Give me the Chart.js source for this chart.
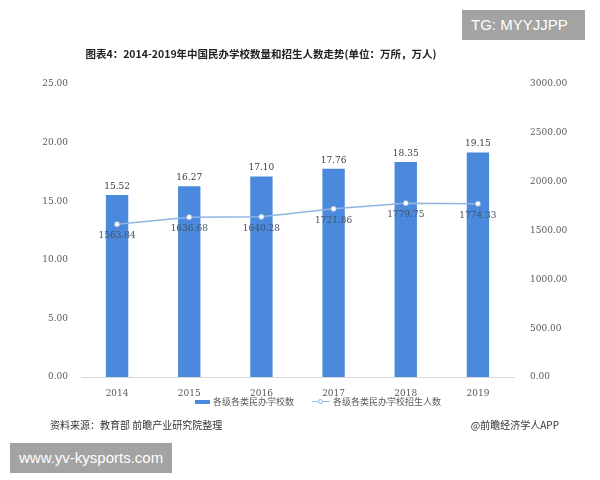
<!DOCTYPE html>
<html>
<head>
<meta charset="utf-8">
<script src="https://cdn.jsdelivr.net/npm/chart.js@4"></script>
<style>
    body { margin: 0; background: #fff; }
    #wrap { position: relative; width: 600px; height: 480px; overflow: hidden; font-family: "Noto Sans CJK SC", sans-serif; }
    #chart { position: absolute; left: 0; top: 0; }
    .txt { position: absolute; white-space: nowrap; }
    #title { left: 0; width: 522px; top: 46px; text-align: center; font-size: 10.5px; font-weight: bold; color: #222; }
    #legend { top: 394px; left: 195px; font-size: 9px; color: #595959; }
    #legend span { display: inline-block; vertical-align: middle; }
    .sw-bar { width: 15px; height: 4px; background: #4a89dc; margin-right: 3px; }
    .sw-line { width: 18px; height: 8px; position: relative; margin-right: 3px; }
    .sw-line:before { content: ''; position: absolute; left: 0; right: 0; top: 3.5px; height: 1px; background: #9dbbe6; }
    .sw-line:after { content: ''; position: absolute; left: 6px; top: 1.5px; width: 3px; height: 3px; border: 1px solid #8fb0e0; border-radius: 50%; background: #fff; }
    #source { left: 50px; top: 417px; font-size: 10px; color: #333; }
    #credit { right: 41px; top: 417px; font-size: 10px; color: #333; }
    .box { position: absolute; background: #a3a3a3; color: #fff; font-family: "Liberation Sans", sans-serif; font-size: 15px; line-height: 30px; padding: 0 9px; }
</style>
</head>
<body>
<div id="wrap">
    <canvas id="chart" width="600" height="480"></canvas>
    <div class="txt" id="title">图表4：2014-2019年中国民办学校数量和招生人数走势(单位：万所，万人)</div>
    <div class="txt" id="legend">
        <span class="sw-bar"></span><span>各级各类民办学校数</span>
        <span style="width:14px"></span>
        <span class="sw-line"></span><span>各级各类民办学校招生人数</span>
    </div>
    <div class="txt" id="source">资料来源：教育部 前瞻产业研究院整理</div>
    <div class="txt" id="credit">@前瞻经济学人APP</div>
    <div class="box" style="left:462px; top:10px; width:105px;">TG: MYYJJPP</div>
    <div class="box" style="left:10px; top:443px;">www.yv-kysports.com</div>
</div>
<script>
// chart data
const years = ['2014', '2015', '2016', '2017', '2018', '2019'];
const schools = [15.52, 16.27, 17.10, 17.76, 18.35, 19.15];          // 万所
const enrolment = [1563.84, 1636.68, 1640.28, 1721.86, 1779.75, 1774.33]; // 万人
const leftTicks = [0, 5, 10, 15, 20, 25];
const rightTicks = [0, 500, 1000, 1500, 2000, 2500, 3000];

const tickFont = { family: '"DejaVu Serif", serif', size: 9 };

// draws value labels above bars and below line points
const valueLabels = {
    id: 'valueLabels',
    afterDatasetsDraw(chart) {
        const ctx = chart.ctx;
        ctx.save();
        ctx.font = '9px "DejaVu Serif", serif';
        ctx.textAlign = 'center';
        chart.data.datasets.forEach(function(ds, i) {
            const meta = chart.getDatasetMeta(i);
            meta.data.forEach(function(el, j) {
                const v = ds.data[j].toFixed(2);
                if (ds.type === 'bar') {
                    ctx.fillStyle = '#404040';
                    ctx.textBaseline = 'bottom';
                    ctx.fillText(v, el.x, el.y - 4);
                } else {
                    ctx.fillStyle = '#44546a';
                    ctx.textBaseline = 'top';
                    ctx.fillText(v, el.x, el.y + 7);
                }
            });
        });
        ctx.restore();
    }
};

new Chart(document.getElementById('chart'), {
    data: {
        labels: years,
        datasets: [{
            type: 'line',
            label: '各级各类民办学校招生人数',
            data: enrolment,
            yAxisID: 'y1',
            borderColor: '#92b4e3',
            borderWidth: 1.5,
            pointRadius: 2.8,
            pointBackgroundColor: '#fff',
            pointBorderColor: '#7fa5dc',
            pointBorderWidth: 1,
            tension: 0
        }, {
            type: 'bar',
            label: '各级各类民办学校数',
            data: schools,
            yAxisID: 'y',
            backgroundColor: '#4a89dc',
            categoryPercentage: 0.62,
            barPercentage: 0.5
        }]
    },
    options: {
        responsive: false,
        animation: false,
        layout: { padding: { top: 84, bottom: 0, left: 0, right: 0 } },
        plugins: {
            legend: { display: false },
            tooltip: { enabled: false }
        },
        scales: {
            x: {
                grid: { display: false },
                border: { color: '#d9d9d9' },
                ticks: { color: '#595959', font: tickFont, padding: 3 },
                afterFit: function(scale) { scale.height = 103; }
            },
            y: {
                position: 'left',
                min: 0,
                max: 25,
                grid: { display: false },
                border: { display: false },
                afterBuildTicks: function(scale) {
                    scale.ticks = leftTicks.map(function(v) { return { value: v }; });
                },
                ticks: {
                    color: '#595959',
                    font: tickFont,
                    padding: 5,
                    callback: function(value) { return value.toFixed(2); }
                },
                afterFit: function(scale) { scale.width = 81; }
            },
            y1: {
                position: 'right',
                min: 0,
                max: 3000,
                grid: { display: false },
                border: { display: false },
                afterBuildTicks: function(scale) {
                    scale.ticks = rightTicks.map(function(v) { return { value: v }; });
                },
                ticks: {
                    color: '#595959',
                    font: tickFont,
                    padding: 8,
                    callback: function(value) { return value.toFixed(2); }
                },
                afterFit: function(scale) { scale.width = 86; }
            }
        }
    },
    plugins: [valueLabels]
});
</script>
</body>
</html>
